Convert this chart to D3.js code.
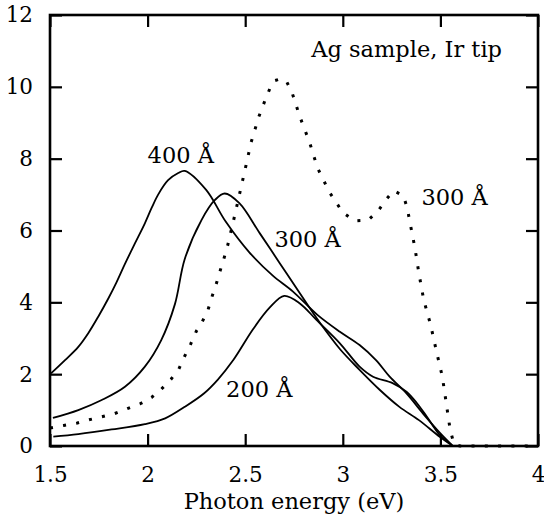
<!DOCTYPE html>
<html>
<head>
<meta charset="utf-8">
<script src="https://cdn.jsdelivr.net/npm/d3@7"></script>
<style>
  body { margin: 0; background: #fff; }
  svg text { font-family: "DejaVu Serif", serif; fill: #000; }
</style>
</head>
<body>
<div id="chartDiv"></div>
<script>
// values
var energy400 = [1.505, 1.577, 1.645, 1.696, 1.747, 1.798, 1.84, 1.884, 1.935, 1.986, 2.02, 2.054, 2.105, 2.157, 2.19, 2.30, 2.40, 2.52, 2.64, 2.745, 2.87, 2.985, 3.086, 3.17, 3.24, 3.325, 3.41, 3.50, 3.56];
var signal400 = [2.02, 2.39, 2.76, 3.14, 3.6, 4.1, 4.55, 5.07, 5.64, 6.2, 6.62, 7.0, 7.4, 7.6, 7.66, 7.13, 6.25, 5.4, 4.75, 4.3, 3.65, 3.18, 2.81, 2.39, 1.93, 1.47, 0.91, 0.35, 0.02];

var energy300 = [1.515, 1.645, 1.765, 1.884, 1.986, 2.07, 2.14, 2.19, 2.276, 2.345, 2.395, 2.47, 2.575, 2.677, 2.78, 2.88, 2.985, 3.086, 3.19, 3.29, 3.39, 3.496, 3.56];
var signal300 = [0.78, 1.0, 1.28, 1.65, 2.21, 2.95, 3.95, 5.2, 6.29, 6.85, 7.03, 6.76, 5.92, 5.09, 4.25, 3.45, 2.7, 2.12, 1.56, 1.09, 0.72, 0.26, 0.02];

var energy200 = [1.517, 1.645, 1.816, 1.986, 2.09, 2.19, 2.29, 2.36, 2.44, 2.54, 2.625, 2.70, 2.78, 2.865, 2.985, 3.086, 3.155, 3.255, 3.326, 3.38, 3.43, 3.496, 3.56];
var signal200 = [0.26, 0.33, 0.46, 0.61, 0.77, 1.09, 1.47, 1.85, 2.4, 3.25, 3.85, 4.18, 3.97, 3.51, 2.86, 2.21, 1.93, 1.75, 1.51, 1.19, 0.82, 0.31, 0.02];

var energyDot = [1.5, 1.57, 1.64, 1.70, 1.77, 1.83, 1.90, 1.96, 2.02, 2.07, 2.12, 2.16, 2.19, 2.22, 2.25, 2.28, 2.31, 2.33, 2.35, 2.37, 2.39, 2.41, 2.425, 2.44, 2.47, 2.50, 2.53, 2.57, 2.60, 2.63, 2.65, 2.68, 2.71, 2.74, 2.78, 2.83, 2.87, 2.93, 3.00, 3.06, 3.13, 3.18, 3.22, 3.26, 3.31, 3.33, 3.345, 3.37, 3.39, 3.415, 3.45, 3.48, 3.51, 3.53, 3.55, 3.57, 3.60, 4.0];
var signalDot = [0.5, 0.57, 0.64, 0.73, 0.82, 0.9, 1.05, 1.17, 1.35, 1.58, 1.86, 2.14, 2.5, 2.83, 3.2, 3.46, 3.8, 4.16, 4.48, 4.85, 5.2, 5.58, 5.93, 6.27, 6.99, 7.71, 8.45, 9.17, 9.6, 10.0, 10.17, 10.22, 10.17, 9.84, 9.17, 8.45, 7.75, 7.08, 6.5, 6.27, 6.29, 6.54, 6.85, 7.11, 6.97, 6.63, 6.2, 5.5, 4.8, 4.06, 3.37, 2.63, 1.93, 1.19, 0.45, 0.05, 0, 0];

var xTicks = [1.5, 2, 2.5, 3, 3.5, 4];
var yTicks = [0, 2, 4, 6, 8, 10, 12];

var labels = [
  {text: "400 Å", x: 2.17, y: 7.88},
  {text: "300 Å", x: 2.82, y: 5.54},
  {text: "200 Å", x: 2.572, y: 1.36},
  {text: "300 Å", x: 3.573, y: 6.71}
];

var svg = d3.select("#chartDiv").append("svg")
    .attr("width", 544)
    .attr("height", 523),
    margin = {top: 15, right: 6, bottom: 77, left: 50};

var width = 544 - margin.left - margin.right,
    height = 523 - margin.top - margin.bottom;

var x_scale = d3.scaleLinear().domain([1.5, 4]).range([margin.left, margin.left + width]);
var y_scale = d3.scaleLinear().domain([0, 12]).range([margin.top + height, margin.top]);

var tickLen = 12;

// ticks, all four sides, pointing inward
svg.append("g")
    .attr("transform", "translate(0," + (margin.top + height) + ")")
    .call(d3.axisBottom(x_scale).tickValues(xTicks).tickSize(-tickLen).tickPadding(21).tickFormat(d3.format("")));
svg.append("g")
    .attr("transform", "translate(0," + margin.top + ")")
    .call(d3.axisTop(x_scale).tickValues(xTicks).tickSize(-tickLen).tickFormat(""));
svg.append("g")
    .attr("transform", "translate(" + margin.left + ",0)")
    .call(d3.axisLeft(y_scale).tickValues(yTicks).tickSize(-tickLen).tickPadding(17).tickFormat(d3.format("")));
svg.append("g")
    .attr("transform", "translate(" + (margin.left + width) + ",0)")
    .call(d3.axisRight(y_scale).tickValues(yTicks).tickSize(-tickLen).tickFormat(""));

svg.selectAll(".domain").remove();
svg.selectAll(".tick line").attr("stroke", "#000").attr("stroke-width", 2.2);
svg.selectAll(".tick text")
    .attr("font-size", 21.5)
    .attr("fill", "#000");

var line = d3.line()
    .x(function(d){ return x_scale(d[0]); })
    .y(function(d){ return y_scale(d[1]); })
    .curve(d3.curveCatmullRom.alpha(0.5));

function pairs(xs, ys) { return xs.map(function(v, i){ return [v, ys[i]]; }); }

[[energy400, signal400], [energy300, signal300], [energy200, signal200]].forEach(function(s){
  svg.append("path")
      .datum(pairs(s[0], s[1]))
      .attr("d", line)
      .attr("fill", "none")
      .attr("stroke", "#000")
      .attr("stroke-width", 1.8);
});

svg.append("path")
    .datum(pairs(energyDot, signalDot))
    .attr("d", line.curve(d3.curveLinear))
    .attr("fill", "none")
    .attr("stroke", "#000")
    .attr("stroke-width", 3)
    .attr("stroke-dasharray", "3,10.3");

// frame
svg.append("rect")
    .attr("x", margin.left)
    .attr("y", margin.top)
    .attr("width", width)
    .attr("height", height)
    .attr("fill", "none")
    .attr("stroke", "#000")
    .attr("stroke-width", 2.6);

svg.selectAll(".curve_label").data(labels).enter()
    .append("text")
    .attr("class", "curve_label")
    .attr("x", function(d){ return x_scale(d.x); })
    .attr("y", function(d){ return y_scale(d.y); })
    .attr("text-anchor", "middle")
    .attr("font-size", 22.5)
    .text(function(d){ return d.text; });

svg.append("text")
    .attr("x", 502)
    .attr("y", 57)
    .attr("text-anchor", "end")
    .attr("font-size", 22.5)
    .text("Ag sample, Ir tip");

svg.append("text")
    .attr("x", 294)
    .attr("y", 509)
    .attr("text-anchor", "middle")
    .attr("font-size", 22.5)
    .text("Photon energy (eV)");
</script>
</body>
</html>
